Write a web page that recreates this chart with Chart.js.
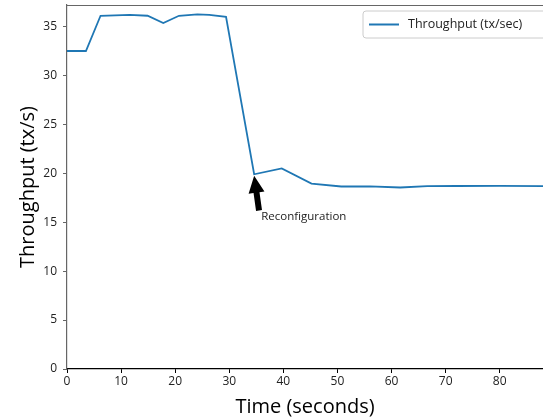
<!DOCTYPE html>
<html>
<head>
<meta charset="utf-8">
<script src="https://cdn.jsdelivr.net/npm/chart.js@4/dist/chart.umd.min.js"></script>
<style>
  html, body { margin: 0; padding: 0; background: #fff; }
  #wrap { width: 543px; height: 419px; }
</style>
</head>
<body>
<div id="wrap"><canvas id="myChart" width="543" height="419"></canvas></div>
<script>
// data
var times = [0, 3.5, 6.2, 11.6, 14.9, 17.8, 20.7, 24.1, 26.3, 29.4, 34.6, 39.7, 45.2, 50.7, 56, 61.6, 66.6, 72, 80, 88];
var throughput = [32.5, 32.5, 36.1, 36.2, 36.1, 35.35, 36.1, 36.25, 36.2, 36.0, 19.9, 20.5, 18.95, 18.65, 18.66, 18.55, 18.68, 18.7, 18.72, 18.68];
var xTicks = [0, 10, 20, 30, 40, 50, 60, 70, 80];
var yTicks = [0, 5, 10, 15, 20, 25, 30, 35];
var seriesLabel = 'Throughput (tx/sec)';
var noteText = 'Reconfiguration';
var noteTip = [34.6, 19.75];
var noteTail = [35.5, 16.2];
var notePos = [35.9, 15.6];

var FONT = '"Open Sans", "DejaVu Sans", sans-serif';

// arrow, annotation text and legend box
var extras = {
    id: 'extras',
    afterDatasetsDraw: function (chart) {
        var c = chart.ctx, xs = chart.scales.x, ys = chart.scales.y, area = chart.chartArea;

        // arrow
        var tx = xs.getPixelForValue(noteTip[0]), ty = ys.getPixelForValue(noteTip[1]);
        var bx = xs.getPixelForValue(noteTail[0]), by = ys.getPixelForValue(noteTail[1]);
        var ang = Math.atan2(ty - by, tx - bx);
        var len = Math.hypot(tx - bx, ty - by);
        c.save();
        c.translate(bx, by);
        c.rotate(ang);
        c.beginPath();
        c.moveTo(0, -3);
        c.lineTo(len - 17, -3);
        c.lineTo(len - 17, -8);
        c.lineTo(len, 0);
        c.lineTo(len - 17, 8);
        c.lineTo(len - 17, 3);
        c.lineTo(0, 3);
        c.closePath();
        c.fillStyle = '#000';
        c.fill();
        c.restore();

        // text
        c.save();
        c.font = '11.5px ' + FONT;
        c.fillStyle = '#222';
        c.textBaseline = 'middle';
        c.fillText(noteText, xs.getPixelForValue(notePos[0]), ys.getPixelForValue(notePos[1]));
        c.restore();

        // legend
        c.save();
        var lx = 363, ly = 11, lw = area.right - lx + 6, lh = 27;
        c.beginPath();
        c.roundRect(lx, ly, lw, lh, 3);
        c.fillStyle = 'rgba(255,255,255,0.85)';
        c.fill();
        c.strokeStyle = '#ccc';
        c.lineWidth = 1;
        c.stroke();
        c.beginPath();
        c.moveTo(lx + 6, ly + 13.5);
        c.lineTo(lx + 36, ly + 13.5);
        c.strokeStyle = '#1f77b4';
        c.lineWidth = 2;
        c.stroke();
        c.font = '12.5px ' + FONT;
        c.fillStyle = '#222';
        c.textBaseline = 'middle';
        c.fillText(seriesLabel, lx + 45, ly + 13.5);
        c.restore();

        // top border
        c.save();
        c.beginPath();
        c.moveTo(area.left, area.top + 0.5);
        c.lineTo(area.right, area.top + 0.5);
        c.strokeStyle = '#666';
        c.lineWidth = 1.2;
        c.stroke();
        c.restore();
    }
};

var ctx = document.getElementById('myChart');
var chart = new Chart(ctx, {
    type: 'line',
    data: {
        datasets: [{
            label: seriesLabel,
            data: times.map(function (t, i) { return { x: t, y: throughput[i] }; }),
            borderColor: '#1f77b4',
            borderWidth: 1.8,
            pointRadius: 0,
            fill: false,
            tension: 0
        }]
    },
    options: {
        responsive: false,
        animation: false,
        layout: { padding: { top: 5, right: 0, left: 0, bottom: 0 } },
        plugins: {
            legend: { display: false },
            tooltip: { enabled: false }
        },
        scales: {
            x: {
                type: 'linear',
                min: 0,
                max: 88,
                afterBuildTicks: function (s) { s.ticks = xTicks.map(function (v) { return { value: v }; }); },
                afterFit: function (s) { s.height = 50; s.paddingRight = 0; },
                ticks: { font: { family: FONT, size: 12 }, color: '#222', padding: 1, maxRotation: 0 },
                grid: { drawOnChartArea: false, tickLength: 4, color: '#000' },
                border: { color: '#000', width: 1.2 },
                title: { display: true, text: 'Time (seconds)', font: { family: FONT, size: 20 }, color: '#000', padding: { top: 0, bottom: 0 } }
            },
            y: {
                min: 0,
                max: 37.2,
                afterBuildTicks: function (s) { s.ticks = yTicks.map(function (v) { return { value: v }; }); },
                afterFit: function (s) { s.width = 67; s.paddingTop = 0; s.paddingBottom = 0; },
                ticks: { font: { family: FONT, size: 12 }, color: '#222', padding: 6 },
                grid: { drawOnChartArea: false, tickLength: 4, color: '#666' },
                border: { color: '#666', width: 1.2 },
                title: { display: true, text: 'Throughput (tx/s)', font: { family: FONT, size: 20 }, color: '#000', padding: { top: 16, bottom: 0 } }
            }
        }
    },
    plugins: [extras]
});
</script>
</body>
</html>
